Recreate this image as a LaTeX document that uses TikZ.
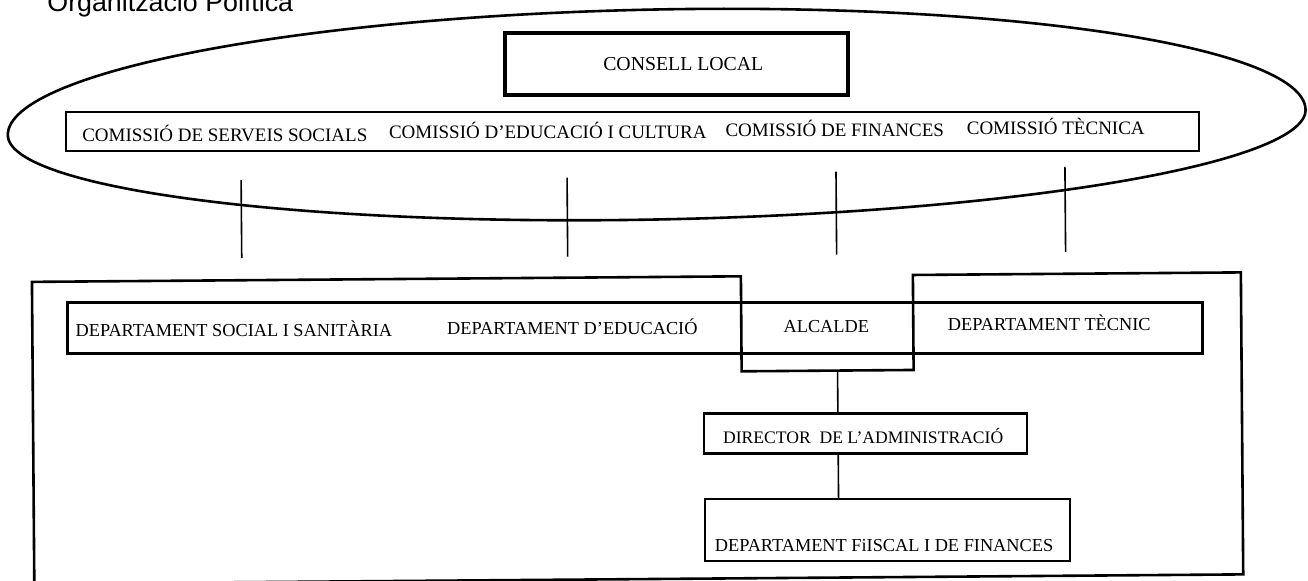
\documentclass[tikz,border=0pt]{standalone}
\usepackage{fontspec}
\setmainfont{Liberation Serif}
\newfontfamily\titlefont{Liberation Sans}
\begin{document}
\begin{tikzpicture}[x=0.5pt,y=-0.5pt,
  box/.style={draw,line width=1.2pt,inner sep=0pt},
  thickbox/.style={draw,line width=2.2pt,inner sep=0pt},
  deptbox/.style={draw,line width=1.5pt,inner sep=0pt},
  frame/.style={line width=1.3pt,line join=miter},
  oval/.style={line width=1.3pt},
  conn/.style={line width=0.8pt},
  ctxt/.style={inner sep=0pt,anchor=base,font=\fontsize{9.5}{11}\selectfont},
  dtxt/.style={inner sep=0pt,anchor=base,font=\fontsize{9.15}{11}\selectfont},
  ltxt/.style={inner sep=0pt,anchor=base,font=\fontsize{9.9}{12}\selectfont},
  rtxt/.style={inner sep=0pt,anchor=base,font=\fontsize{8.8}{11}\selectfont},
  ttxt/.style={inner sep=0pt,anchor=base west,font=\titlefont\fontsize{13.4}{16}\selectfont}]
\useasboundingbox (0,0) rectangle (1308,580);
\node[ttxt] (title) at (47,11) {Organització Política};
\begin{scope}[rotate around={0.45:(654,290)}]
% oval round the political bodies
\draw[oval] plot[domain=0:360,samples=241] ({658+649*cos(\x)},{122.5-7.5*cos(\x)+105*sin(\x)-8*abs(sin(\x))}) -- cycle;
% consell local
\node[thickbox,minimum width=171.5pt,minimum height=31pt] (consell) at (678.5,64) {};
\node[ltxt] (consellt) at (685,71) {CONSELL LOCAL};
% comissions
\node[box,minimum width=566.5pt,minimum height=19.5pt] (com) at (633.5,131.5) {};
\node[ctxt] (c1) at (226,138) {COMISSIÓ DE SERVEIS SOCIALS};
\node[ctxt] (c2) at (549,138) {COMISSIÓ D’EDUCACIÓ I CULTURA};
\node[ctxt] (c3) at (836,138) {COMISSIÓ DE FINANCES};
\node[ctxt] (c4) at (1057,138) {COMISSIÓ TÈCNICA};
% connectors between the two levels
\coordinate (l1t) at (242,177); \coordinate (l1b) at (242,255);
\coordinate (l2t) at (568,177); \coordinate (l2b) at (568,256);
\coordinate (l3t) at (837,173); \coordinate (l3b) at (837,256);
\coordinate (l4t) at (1066,170); \coordinate (l4b) at (1066,255);
\draw[conn] (l1t) -- (l1b);
\draw[conn] (l2t) -- (l2b);
\draw[conn] (l3t) -- (l3b);
\draw[conn] (l4t) -- (l4b);
% outer frame with the mayor's notch
\draw[frame] (32,277) -- (741,277) -- (741,372) -- (913,372) -- (913,277) -- (1241,277) -- (1241,579) -- (32,579) -- cycle;
% departments
\node[deptbox,minimum width=567.5pt,minimum height=25.5pt] (dept) at (634.5,327.5) {};
\node[dtxt] (d1) at (233.5,333.5) {DEPARTAMENT SOCIAL I SANITÀRIA};
\node[dtxt] (d2) at (572,333.5) {DEPARTAMENT D’EDUCACIÓ};
\node[dtxt] (alc) at (826,333.5) {ALCALDE};
\node[dtxt] (d4) at (1049,333.5) {DEPARTAMENT TÈCNIC};
\coordinate (alcb) at (837,372);
% director and fiscal department
\node[box,minimum width=161.5pt,minimum height=20pt] (dir) at (864.5,435) {};
\node[rtxt] (dirt) at (862,445) {DIRECTOR\ \ DE L’ADMINISTRACIÓ};
\node[box,minimum width=182.5pt,minimum height=31pt] (fis) at (885.5,532) {};
\node[dtxt] (fist) at (882,553) {DEPARTAMENT FiISCAL I DE FINANCES};
\draw[conn] (alcb) -- (alcb |- dir.north);
\draw[conn] (alcb |- dir.south) -- (alcb |- fis.north);
\end{scope}
\end{tikzpicture}
\end{document}
